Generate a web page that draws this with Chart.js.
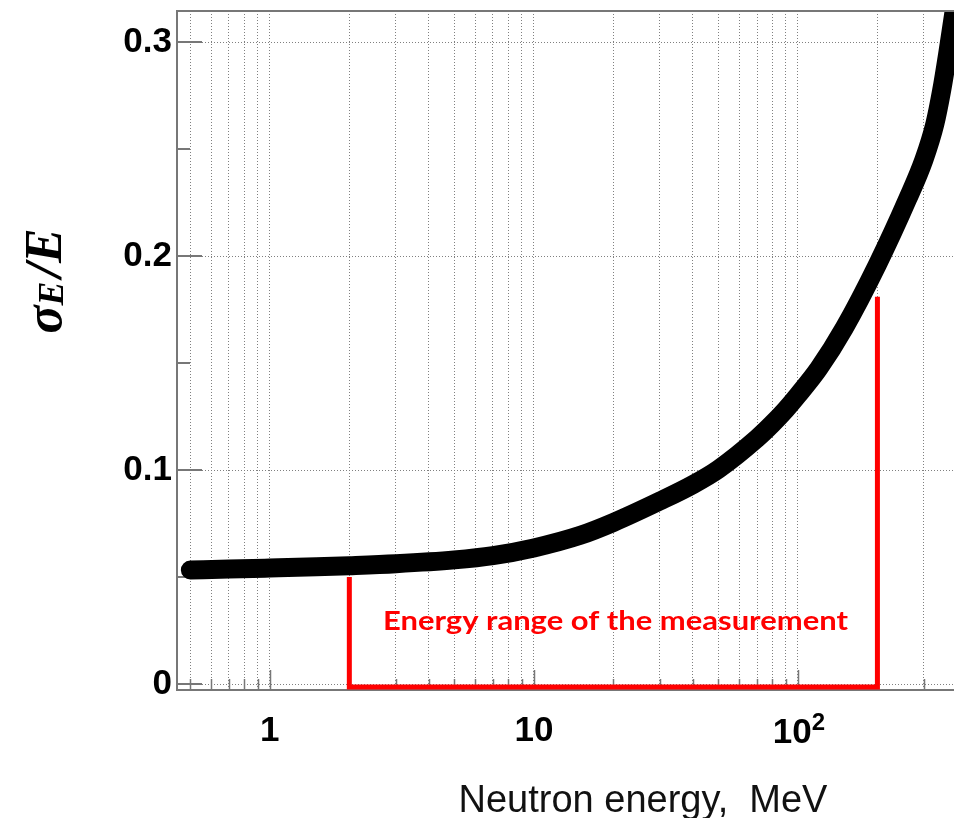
<!DOCTYPE html>
<html>
<head>
<meta charset="utf-8">
<script src="https://cdn.jsdelivr.net/npm/chart.js@4.4.1/dist/chart.umd.min.js"></script>
<style>
html,body{margin:0;padding:0;background:#fff;overflow:hidden}
#wrap{width:954px;height:818px;position:relative}
canvas{display:block}
</style>
</head>
<body>
<div id="wrap"><canvas id="c" width="954" height="818"></canvas></div>
<script>
// ---- data ----
const energyMeV  = [0.5, 0.7, 1, 1.5, 2, 3, 5, 7, 10, 15, 20, 30, 40, 50, 70, 80, 90, 100, 120, 150, 200, 260, 300, 330, 350, 370, 390, 410];
const sigmaOverE = [0.0533, 0.0537, 0.0542, 0.0548, 0.0553, 0.0562, 0.0580, 0.0600, 0.0636, 0.0695, 0.0755, 0.0855, 0.0932, 0.1004, 0.1148, 0.1216, 0.1283, 0.1350, 0.1475, 0.1665, 0.1960, 0.2265, 0.2450, 0.2617, 0.2772, 0.2954, 0.3141, 0.3330];

// red "energy range of the measurement" bracket
const rangeEnergy = [2, 2, 200, 200];
const rangeLevel  = [0.050, -0.0014, -0.0014, 0.181];
const rangeText = 'Energy range of the measurement';

// axes
const xLimits = [0.445, 390];
const yLimits = [-0.0028, 0.3145];
const xGridValues = [0.5, 0.6, 0.7, 0.8, 0.9, 1, 2, 3, 4, 5, 6, 7, 8, 9, 10, 20, 30, 40, 50, 60, 70, 80, 90, 100, 200, 300];
const xMajorValues = [1, 10, 100];
const xTickLabels = {1: '1', 10: '10'};   // 100 is drawn as 10 with superscript 2
const yTickValues = [0, 0.1, 0.2, 0.3];
const yTickLabels = ['0', '0.1', '0.2', '0.3'];
const yMinorTicks = [0.05, 0.15, 0.25];
const xTitle = 'Neutron energy,  MeV';

const FRAME = '#777777';
const GRID = '#808080';

const decor = {
  id: 'decor',
  beforeDatasetsDraw(chart) {
    const {ctx, chartArea: a, scales: {x, y}} = chart;
    ctx.save();
    ctx.strokeStyle = FRAME;
    ctx.lineWidth = 1.5;
    xGridValues.forEach(v => {
      const px = Math.round(x.getPixelForValue(v)) + 0.5;
      const len = xMajorValues.includes(v) ? 20 : 11;
      ctx.beginPath(); ctx.moveTo(px, a.bottom); ctx.lineTo(px, a.bottom - len); ctx.stroke();
    });
    ctx.lineWidth = 2;
    yTickValues.forEach(v => {
      const py = Math.round(y.getPixelForValue(v));
      ctx.beginPath(); ctx.moveTo(a.left, py); ctx.lineTo(a.left + 25, py); ctx.stroke();
    });
    yMinorTicks.forEach(v => {
      const py = Math.round(y.getPixelForValue(v));
      ctx.beginPath(); ctx.moveTo(a.left, py); ctx.lineTo(a.left + 13, py); ctx.stroke();
    });
    ctx.restore();
  },
  afterDatasetsDraw(chart) {
    const {ctx, chartArea: a} = chart;
    ctx.save();
    ctx.strokeStyle = FRAME; ctx.lineWidth = 2;
    ctx.beginPath(); ctx.moveTo(a.left - 1, a.top); ctx.lineTo(chart.width, a.top); ctx.stroke();
    ctx.restore();
  },
  afterDraw(chart) {
    const {ctx, scales: {x}} = chart;
    ctx.save();
    // 10^2 label
    const px = x.getPixelForValue(100);
    ctx.fillStyle = '#000';
    ctx.textBaseline = 'alphabetic';
    ctx.font = 'bold 35px "Liberation Sans"';
    const w10 = ctx.measureText('10').width;
    ctx.font = 'bold 24px "Liberation Sans"';
    const w2 = ctx.measureText('2').width;
    const start = px - (w10 + w2) / 2 + 1;
    ctx.font = 'bold 35px "Liberation Sans"';
    ctx.fillText('10', start, 743);
    ctx.font = 'bold 24px "Liberation Sans"';
    ctx.fillText('2', start + w10, 730);

    // x title
    ctx.font = '38px "Liberation Sans"';
    ctx.fillStyle = '#111';
    ctx.textAlign = 'center';
    ctx.fillText(xTitle, 643, 812);
    ctx.textAlign = 'left';

    // red range text
    ctx.fillStyle = '#ff0000';
    ctx.font = 'bold 26px Lato';
    const wt = ctx.measureText(rangeText).width;
    ctx.save();
    ctx.translate(383, 630);
    ctx.scale(465 / wt, 1);
    ctx.fillText(rangeText, 0, 0);
    ctx.restore();

    // y title sigma_E / E (rotated)
    ctx.fillStyle = '#000';
    const big = 'italic bold 52px "Liberation Serif"';
    const sub = 'italic bold 36px "Liberation Serif"';
    ctx.font = big; const wS = ctx.measureText('\u03C3').width;
    ctx.font = sub; const wE1 = ctx.measureText('E').width;
    ctx.font = big; const wSl = ctx.measureText('/').width; const wE2 = ctx.measureText('E').width;
    const total = wS + wE1 + wSl + wE2 + 4;
    ctx.translate(61, 281);
    ctx.rotate(-Math.PI / 2);
    let cx = -total / 2;
    ctx.font = big; ctx.fillText('\u03C3', cx, 0); cx += wS;
    ctx.font = sub; ctx.fillText('E', cx, 2); cx += wE1 + 4;
    ctx.font = big; ctx.fillText('/', cx, 0); cx += wSl;
    ctx.fillText('E', cx, 0);
    ctx.restore();
  }
};

const curvePts = energyMeV.map((e, i) => ({x: e, y: sigmaOverE[i]}));
const rangePts = rangeEnergy.map((e, i) => ({x: e, y: rangeLevel[i]}));

new Chart(document.getElementById('c'), {
  type: 'scatter',
  data: {
    datasets: [
      {
        data: curvePts, showLine: true, borderColor: '#000', backgroundColor: '#000',
        borderWidth: 19, borderCapStyle: 'round', borderJoinStyle: 'round',
        pointRadius: 0, cubicInterpolationMode: 'monotone', clip: 0
      },
      {
        data: rangePts, showLine: true, borderColor: '#ff0000', backgroundColor: '#ff0000',
        borderWidth: 5, borderCapStyle: 'butt', borderJoinStyle: 'miter',
        pointRadius: 0, tension: 0
      }
    ]
  },
  options: {
    responsive: false,
    animation: false,
    devicePixelRatio: 1,
    layout: {padding: {top: 11, right: 0, left: 0, bottom: 0}},
    plugins: {legend: {display: false}, tooltip: {enabled: false}, title: {display: false}},
    scales: {
      x: {
        type: 'logarithmic', min: xLimits[0], max: xLimits[1],
        afterBuildTicks: s => { s.ticks = xGridValues.map(v => ({value: v})); },
        afterFit: s => { s.height = 128; s.paddingLeft = 0; s.paddingRight = 0; },
        grid: {color: GRID, lineWidth: 1, drawTicks: false},
        border: {display: true, color: FRAME, width: 2, dash: [1, 2]},
        ticks: {
          autoSkip: false, maxRotation: 0, minRotation: 0, padding: 20, color: '#000',
          font: {family: 'Liberation Sans', size: 35, weight: 'bold'},
          callback: v => xTickLabels[v] || ''
        }
      },
      y: {
        type: 'linear', min: yLimits[0], max: yLimits[1],
        afterBuildTicks: s => { s.ticks = yTickValues.map(v => ({value: v})); },
        afterFit: s => { s.width = 177; s.paddingTop = 0; s.paddingBottom = 0; },
        grid: {color: GRID, lineWidth: 1, drawTicks: false},
        border: {display: true, color: FRAME, width: 2, dash: [1, 2]},
        ticks: {
          padding: 5, color: '#000',
          font: {family: 'Liberation Sans', size: 35, weight: 'bold'},
          callback: (v, i) => yTickLabels[i]
        }
      }
    }
  },
  plugins: [decor]
});
</script>
</body>
</html>
